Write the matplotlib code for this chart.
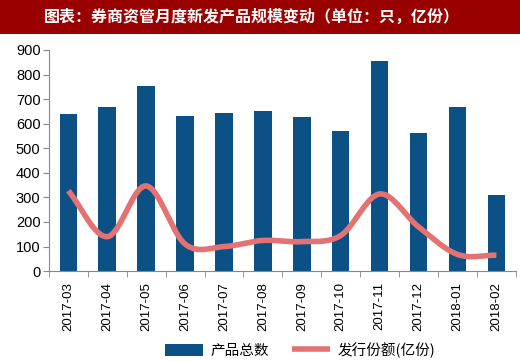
import numpy as np
import matplotlib.pyplot as plt
from matplotlib.patches import Rectangle

plt.rcParams['font.family'] = ['Liberation Sans', 'Noto Sans CJK SC', 'DejaVu Sans']

# data
months = ['2017-03', '2017-04', '2017-05', '2017-06', '2017-07', '2017-08',
          '2017-09', '2017-10', '2017-11', '2017-12', '2018-01', '2018-02']
product_count = [639, 669, 752, 631, 645, 651, 627, 569, 857, 561, 669, 311]
issue_size = [327, 140, 347, 110, 100, 125, 120, 145, 314, 180, 68, 65]

title = '图表：券商资管月度新发产品规模变动（单位：只，亿份）'
bar_label = '产品总数'
line_label = '发行份额(亿份)'

bar_color = '#0b5186'
line_color = '#e47272'
title_bg = '#990000'


def smooth(x, y, steps=20):
    """Catmull-Rom curve through the points (Excel-like smoothed line)."""
    x = np.asarray(x, float)
    y = np.asarray(y, float)
    px = np.concatenate([[2 * x[0] - x[1]], x, [2 * x[-1] - x[-2]]])
    py = np.concatenate([[2 * y[0] - y[1]], y, [2 * y[-1] - y[-2]]])
    xs, ys = [], []
    t = np.linspace(0, 1, steps, endpoint=False)
    for i in range(1, len(px) - 2):
        for p, out in ((px, xs), (py, ys)):
            p0, p1, p2, p3 = p[i - 1], p[i], p[i + 1], p[i + 2]
            out.extend(0.5 * (2 * p1 + (-p0 + p2) * t
                              + (2 * p0 - 5 * p1 + 4 * p2 - p3) * t ** 2
                              + (-p0 + 3 * p1 - 3 * p2 + p3) * t ** 3))
    xs.append(x[-1])
    ys.append(y[-1])
    return np.array(xs), np.array(ys)


fig = plt.figure(figsize=(5.2, 3.62), dpi=100)

# title bar
fig.patches.append(Rectangle((0, 0.906), 1, 0.094, transform=fig.transFigure,
                             facecolor=title_bg, edgecolor='none', zorder=0))
fig.text(0.485, 0.953, title, color='white', fontsize=11.5, fontweight='bold',
         ha='center', va='center', family=['Noto Sans CJK SC', 'DejaVu Sans'])

ax = fig.add_axes([0.094, 0.251, 0.898, 0.611])
xpos = np.arange(len(months))
bars = ax.bar(xpos, product_count, width=0.45, color=bar_color, label=bar_label, zorder=2)
sx, sy = smooth(xpos, issue_size)
ln, = ax.plot(sx, sy, color=line_color, linewidth=4, solid_capstyle='butt',
              label=line_label, zorder=3)

ax.set_xlim(-0.5, len(months) - 0.5)
ax.set_ylim(0, 900)
ax.set_yticks(range(0, 901, 100))
ax.tick_params(axis='y', labelsize=10.5, length=4, color='#888888', pad=2)
ax.set_xticks(xpos)
ax.set_xticklabels(months, rotation=90, fontsize=9.5)
ax.set_xticks(np.arange(-0.5, len(months), 1), minor=True)
ax.tick_params(axis='x', which='major', length=0, pad=8)
ax.tick_params(axis='x', which='minor', length=4, color='#888888')
for side in ['top', 'right']:
    ax.spines[side].set_visible(False)
for side in ['left', 'bottom']:
    ax.spines[side].set_color('#888888')

fig.legend(handles=[bars, ln], labels=[bar_label, line_label], loc='center',
           bbox_to_anchor=(0.577, 0.033), ncol=2, frameon=False,
           handlelength=2.6, handleheight=0.9, handletextpad=0.5, columnspacing=1.6,
           prop={'family': ['Noto Sans CJK SC', 'DejaVu Sans'], 'size': 10.5})

fig.savefig('out.png', dpi=100)
